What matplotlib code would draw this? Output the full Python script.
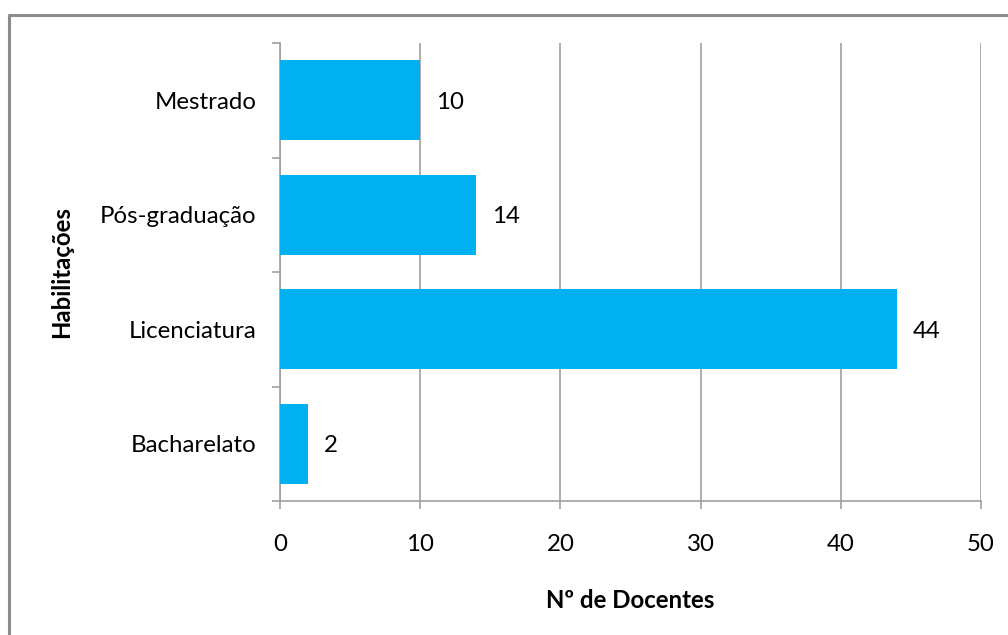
import matplotlib
matplotlib.use("Agg")
import matplotlib.pyplot as plt
from matplotlib.lines import Line2D

categories = ["Bacharelato", "Licenciatura", "Pós-graduação", "Mestrado"]
values = [2, 44, 14, 10]
xticks = [0, 10, 20, 30, 40, 50]

plt.rcParams['font.family'] = ['Lato', 'DejaVu Sans']

W, H = 1008, 635
FS = 17.3
fig = plt.figure(figsize=(W / 100, H / 100), dpi=100)
ax = fig.add_axes([280 / W, 1 - 501 / H, (981 - 280) / W, (501 - 43) / H])

ypos = list(range(len(categories)))
ax.barh(ypos, values, height=0.7, color="#00B0F0", zorder=3)
for y, v in zip(ypos, values):
    ax.annotate(str(v), (v, y), xytext=(11.5, -1.5), textcoords="offset points",
                va="center", ha="left", fontsize=FS, color="#000000")

ax.set_xlim(0, 50)
ax.set_ylim(-0.5, len(categories) - 0.5)
ax.set_xticks(xticks)
ax.set_xticklabels([str(t) for t in xticks], fontsize=FS)
ax.set_yticks(ypos)
ax.set_yticklabels(categories, fontsize=FS)
ax.set_yticks([i - 0.5 for i in range(len(categories) + 1)], minor=True)

ax.tick_params(axis="y", which="major", length=0, pad=17)
ax.tick_params(axis="y", which="minor", length=6, color="#A0A0A0", width=1.2)
ax.tick_params(axis="x", which="major", length=6, color="#A0A0A0", width=1.2, pad=18)

ax.grid(axis="x", color="#A0A0A0", linewidth=1.2, zorder=0)
for s in ["top", "right"]:
    ax.spines[s].set_visible(False)
for s in ["left", "bottom"]:
    ax.spines[s].set_color("#A0A0A0")
    ax.spines[s].set_linewidth(1.2)

ax.set_xlabel("Nº de Docentes", fontsize=FS, fontweight="bold", labelpad=24)
fig.text(62 / W, 1 - 272 / H, "Habilitações", rotation=90, fontsize=FS,
         fontweight="bold", ha="center", va="center")

# outer chart border (right and bottom edges fall outside the canvas)
bx, by = 9 / W, 1 - 15 / H
fig.add_artist(Line2D([bx, bx, 1.01], [-0.01, by, by], transform=fig.transFigure,
                      color="#8C8C8C", linewidth=2.2))

fig.savefig("out.png", dpi=100)
